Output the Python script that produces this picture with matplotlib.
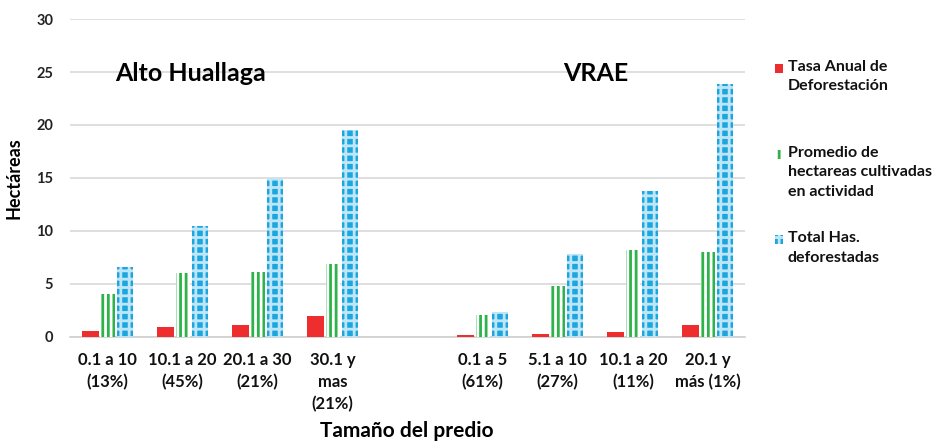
import numpy as np
import matplotlib.pyplot as plt
from matplotlib.patches import Rectangle

plt.rcParams['font.family'] = ['Lato', 'DejaVu Sans']
plt.rcParams['hatch.linewidth'] = 2.0

categories = ['0.1 a 10\n(13%)', '10.1 a 20\n(45%)', '20.1 a 30\n(21%)', '30.1 y\nmas\n(21%)', '',
              '0.1 a 5\n(61%)', '5.1 a 10\n(27%)', '10.1 a 20\n(11%)', '20.1 y\nmás (1%)']
tasa = [0.6, 0.9, 1.1, 2.0, np.nan, 0.15, 0.3, 0.5, 1.15]
promedio = [4.1, 6.0, 6.1, 6.9, np.nan, 2.1, 4.8, 8.2, 8.0]
total = [6.6, 10.5, 15.0, 19.5, np.nan, 2.4, 7.8, 13.8, 23.9]
series_names = ['Tasa Anual de\nDeforestación',
                'Promedio de\nhectareas cultivadas\nen actividad',
                'Total Has.\ndeforestadas']

red = '#ee2e2e'
green = '#2db34a'
blue = '#1ba6e0'

W, H = 942, 442
fig = plt.figure(figsize=(W / 100, H / 100), dpi=100)
ax = fig.add_axes([0.0743, 0.2376, 0.717, 0.7194])

x = np.arange(len(categories))
w = 0.22
ax.bar(x - 0.23, tasa, w, color=red, zorder=3)
ax.bar(x, promedio, w * 0.85, color='white', edgecolor=green, hatch='|||', linewidth=0, zorder=3)
ax.bar(x + 0.23, total, w, color=blue, edgecolor='#bfe6f7', hatch='++', linewidth=0, zorder=3)

ax.set_ylim(0, 30)
ax.set_xlim(-0.5, len(categories) - 0.5)
ax.set_yticks(range(0, 31, 5))
ax.yaxis.grid(True, color='#d9d9d9', linewidth=1.2, zorder=0)
ax.tick_params(axis='y', length=0, pad=12, labelsize=10.5, labelcolor='#222222')
ax.tick_params(axis='x', length=0, pad=11, labelsize=12, labelcolor='#111111')
ax.set_xticks(x)
ax.set_xticklabels(categories, linespacing=1.45)
for s in ['top', 'right', 'left']:
    ax.spines[s].set_visible(False)
ax.spines['bottom'].set_color('#d0d0d0')
ax.spines['bottom'].set_linewidth(1.2)
for lab in ax.get_yticklabels() + ax.get_xticklabels():
    lab.set_fontweight('bold')

ax.set_ylabel('Hectáreas', fontsize=13, fontweight='bold', labelpad=10)
fig.text(407 / W, 1 - 431 / H, 'Tamaño del predio', fontsize=15, fontweight='bold',
         ha='center', va='center')

ax.text(1.1, 24.9, 'Alto Huallaga', fontsize=18, fontweight='bold', ha='center', va='center')
ax.text(6.5, 24.9, 'VRAE', fontsize=18, fontweight='bold', ha='center', va='center')

# legend drawn by hand so the marker sits beside the first line
styles = [dict(facecolor=red, linewidth=0),
          dict(facecolor='white', edgecolor=green, hatch='||', linewidth=0),
          dict(facecolor=blue, edgecolor='#bfe6f7', hatch='++', linewidth=0)]
first_line_y = [69, 155, 240]
for name, st, yy in zip(series_names, styles, first_line_y):
    fig.patches.append(Rectangle((775 / W, 1 - (yy + 4) / H), 8 / W, 9 / H,
                                 transform=fig.transFigure, figure=fig, **st))
    fig.text(788 / W, 1 - (yy - 9) / H, name, fontsize=11.5, fontweight='bold',
             va='top', ha='left', linespacing=1.5, color='#111111')

fig.savefig('out.png', dpi=100)
